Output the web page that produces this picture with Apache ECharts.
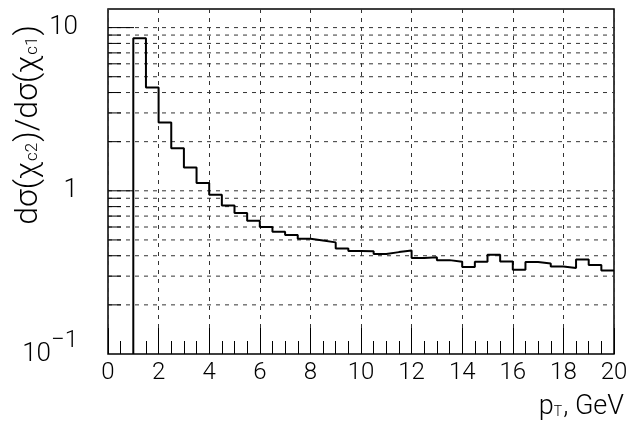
<!DOCTYPE html>
<html><head><meta charset="utf-8">
<script src="https://cdn.jsdelivr.net/npm/echarts@6/dist/echarts.min.js"></script>
<style>html,body{margin:0;padding:0;background:#fff}#c{width:632px;height:426px}</style>
</head><body><div id="c"></div>
<script>
// ---- data ----
const binEdges = [1,1.5,2,2.5,3,3.5,4,4.5,5,5.5,6,6.5,7,7.5,8,8.5,9,9.5,10,10.5,11,11.5,12,12.5,13,13.5,14,14.5,15,15.5,16,16.5,17,17.5,18,18.5,19,19.5,20];
const ratio = [8.61,4.29,2.62,1.825,1.39,1.115,0.945,0.813,0.73,0.655,0.599,0.561,0.536,0.508,0.496,0.483,0.443,0.427,0.426,0.41,0.421,0.431,0.387,0.391,0.376,0.367,0.341,0.367,0.405,0.369,0.328,0.366,0.359,0.344,0.336,0.38,0.351,0.325];
const xTickLabels = [0,2,4,6,8,10,12,14,16,18,20];
const yDecades = [0.1, 1, 10];
const yGridValues = [0.2,0.3,0.4,0.5,0.6,0.7,0.8,0.9,1,2,3,4,5,6,7,8,9,10];
const xRange = [0, 20];
const yRange = [0.1, 13];

const FONT = 'Roboto';
const histPoints = [[binEdges[0], yRange[0]]]
  .concat(ratio.map((v, i) => [binEdges[i], v]))
  .concat([[binEdges[binEdges.length - 1], ratio[ratio.length - 1]]]);

const chart = echarts.init(document.getElementById('c'), null, {renderer: 'canvas'});
const dash = [4, 5];
chart.setOption({
  animation: false,
  backgroundColor: '#fff',
  grid: {left: 108, right: 18, top: 9, bottom: 72, show: true, borderColor: '#000', borderWidth: 1.5, backgroundColor: 'transparent', outerBoundsMode: 'none'},
  xAxis: [
    {type: 'value', min: xRange[0], max: xRange[1], interval: 0.5, position: 'bottom',
     axisLine: {show: false}, splitLine: {show: false},
     axisTick: {show: true, inside: true, length: 13, lineStyle: {color: '#000', width: 1}},
     axisLabel: {show: false}},
    {type: 'value', min: xRange[0], max: xRange[1], interval: 2, position: 'bottom',
     axisLine: {show: false},
     splitLine: {show: true, lineStyle: {color: '#333', width: 1, type: dash}},
     axisTick: {show: true, inside: true, length: 26, lineStyle: {color: '#000', width: 1}},
     axisLabel: {show: true, margin: 7, fontFamily: FONT, fontWeight: 300, fontSize: 24, color: '#000',
       formatter: v => xTickLabels.indexOf(v) >= 0 ? String(v) : ''}}
  ],
  yAxis: {type: 'log', logBase: 10, min: yRange[0], max: yRange[1],
    axisLine: {show: false}, axisTick: {show: false}, splitLine: {show: false},
    axisLabel: {show: true, margin: 30, color: '#000', fontFamily: FONT, fontWeight: 300,
      showMaxLabel: false,
      formatter: v => {
        const e = Math.round(Math.log10(v) * 1000) / 1000;
        if (e === 1) return '{n|10}';
        if (e === 0) return '{n|1}';
        if (e === -1) return '{b|10}{s|\u22121}';
        return '';
      },
      rich: {
        n: {fontSize: 26, fontFamily: FONT, fontWeight: 300, color: '#000'},
        b: {fontSize: 26, fontFamily: FONT, fontWeight: 300, color: '#000', padding: [13, 0, 13, 0]},
        s: {fontSize: 24, fontFamily: FONT, fontWeight: 300, color: '#000', padding: [0, 0, 26, 0]}
      }}
  },
  series: [
    {type: 'custom', xAxisIndex: 0, coordinateSystem: 'cartesian2d', silent: true, z: 1,
     data: yGridValues.map(v => [xRange[0], v]),
     encode: {x: 0, y: 1},
     renderItem: (params, api) => {
       const v = api.value(1);
       const p = api.coord([xRange[0], v]);
       const cs = params.coordSys;
       const major = yDecades.some(d => Math.abs(Math.log10(d) - Math.log10(v)) < 1e-6);
       return {type: 'group', children: [
         {type: 'line', shape: {x1: cs.x, y1: p[1], x2: cs.x + cs.width, y2: p[1]},
          style: {stroke: '#333', lineWidth: 1, lineDash: dash}},
         {type: 'line', shape: {x1: cs.x, y1: p[1], x2: cs.x + (major ? 26 : 13), y2: p[1]},
          style: {stroke: '#000', lineWidth: 1}}
       ]};
     }},
    {type: 'line', xAxisIndex: 0, data: histPoints, step: 'end', showSymbol: false, symbol: 'none', z: 5,
     lineStyle: {color: '#000', width: 2}}
  ],
  graphic: [
    {type: 'text', x: 29, y: 125, rotation: Math.PI / 2,
     style: {text: '{m|d\u03c3(\u03c7}{s|c2}{m|)/d\u03c3(\u03c7}{s|c1}{m|)}', align: 'center', verticalAlign: 'middle',
       rich: {
         m: {fontSize: 32, fontFamily: FONT, fontWeight: 300, fill: '#000'},
         s: {fontSize: 17, fontFamily: FONT, fontWeight: 300, fill: '#000', padding: [7, 1, 0, 1]}
       }}},
    {type: 'text', right: 8, top: 394,
     style: {text: '{a|p}{s|T}{a|, GeV}',
       rich: {
         a: {fontSize: 27, fontFamily: FONT, fontWeight: 300, fill: '#000'},
         s: {fontSize: 14, fontFamily: FONT, fontWeight: 300, fill: '#000', padding: [9, 1, 0, 0]}
       }}}
  ]
});
</script></body></html>
